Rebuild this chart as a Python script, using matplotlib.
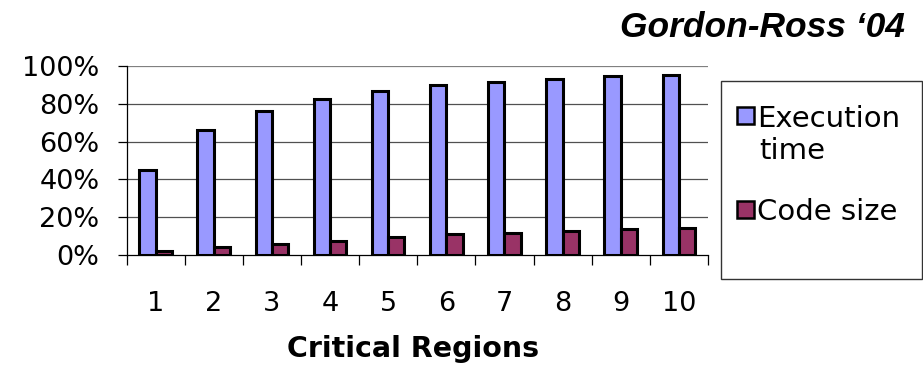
import matplotlib
matplotlib.use("Agg")
import matplotlib.pyplot as plt
from matplotlib.patches import Rectangle
import numpy as np

categories = ["1", "2", "3", "4", "5", "6", "7", "8", "9", "10"]
execution_time = [45, 66, 76, 82.5, 87, 90, 91.5, 93, 94.5, 95.5]
code_size = [2, 4, 6, 7.6, 9.7, 11, 11.5, 12.9, 13.5, 14.5]
series_names = ["Execution", "time", "Code size"]
colors = ["#9999FF", "#993366"]
title = "Gordon-Ross \u201804"
xlabel = "Critical Regions"
yticks = [0, 20, 40, 60, 80, 100]

W, H = 923, 366
fig = plt.figure(figsize=(W / 100, H / 100), dpi=100)

ax = fig.add_axes([126.5 / W, 1 - 255 / H, (708 - 126.5) / W, (255 - 66) / H])
x = np.arange(1, len(categories) + 1)
bw = 0.28
ax.bar(x - bw / 2, execution_time, bw, color=colors[0], edgecolor="black",
       linewidth=2.2, zorder=3)
ax.bar(x + bw / 2, code_size, bw, color=colors[1], edgecolor="black",
       linewidth=2.2, zorder=3)

ax.set_xlim(0.5, len(categories) + 0.5)
ax.set_ylim(0, 100)
ax.set_yticks(yticks)
ax.set_yticklabels([f"{v}%" for v in yticks])
ax.set_xticks(x)
ax.set_xticklabels(categories)
ax.set_xticks(np.arange(0.5, len(categories) + 1), minor=True)

for v in yticks[1:]:
    ax.axhline(v, color="#505050" if v < 100 else "#808080",
               linewidth=0.9, zorder=1)

for s in ["top", "right"]:
    ax.spines[s].set_visible(False)
for s in ["left", "bottom"]:
    ax.spines[s].set_color("black")
    ax.spines[s].set_linewidth(0.9)
    ax.spines[s].set_zorder(4)

ax.tick_params(axis="y", direction="out", length=6.5, width=0.9, pad=13,
               labelsize=19.5, colors="black")
ax.tick_params(axis="x", which="major", length=0, pad=26, labelsize=19.5)
ax.tick_params(axis="x", which="minor", direction="out", length=7, width=0.9)

fig.text(413 / W, 1 - 357 / H, xlabel, ha="center", va="baseline",
         fontsize=20.5, fontweight="bold")
fig.text(905 / W, 1 - 37 / H, title, ha="right", va="baseline",
         fontsize=25.5, fontweight="bold", fontstyle="italic",
         family="Liberation Sans")

# Legend: framed box with two swatches, laid out in figure pixels
def fbox(x0, y0, x1, y1, **kw):
    r = Rectangle((x0 / W, 1 - y1 / H), (x1 - x0) / W, (y1 - y0) / H,
                  transform=fig.transFigure, **kw)
    fig.patches.append(r)

fbox(721, 81, 921.5, 279, facecolor="white", edgecolor="#333333", linewidth=1.0)
fbox(737, 107, 754, 124, facecolor=colors[0], edgecolor="black", linewidth=1.8)
fbox(737, 201, 754, 218, facecolor=colors[1], edgecolor="black", linewidth=1.8)
fig.text(757 / W, 1 - 127 / H, series_names[0], ha="left", va="baseline", fontsize=21)
fig.text(759 / W, 1 - 159 / H, series_names[1], ha="left", va="baseline", fontsize=21)
fig.text(757 / W, 1 - 220 / H, series_names[2], ha="left", va="baseline", fontsize=21)

fig.savefig("out.png", dpi=100)
